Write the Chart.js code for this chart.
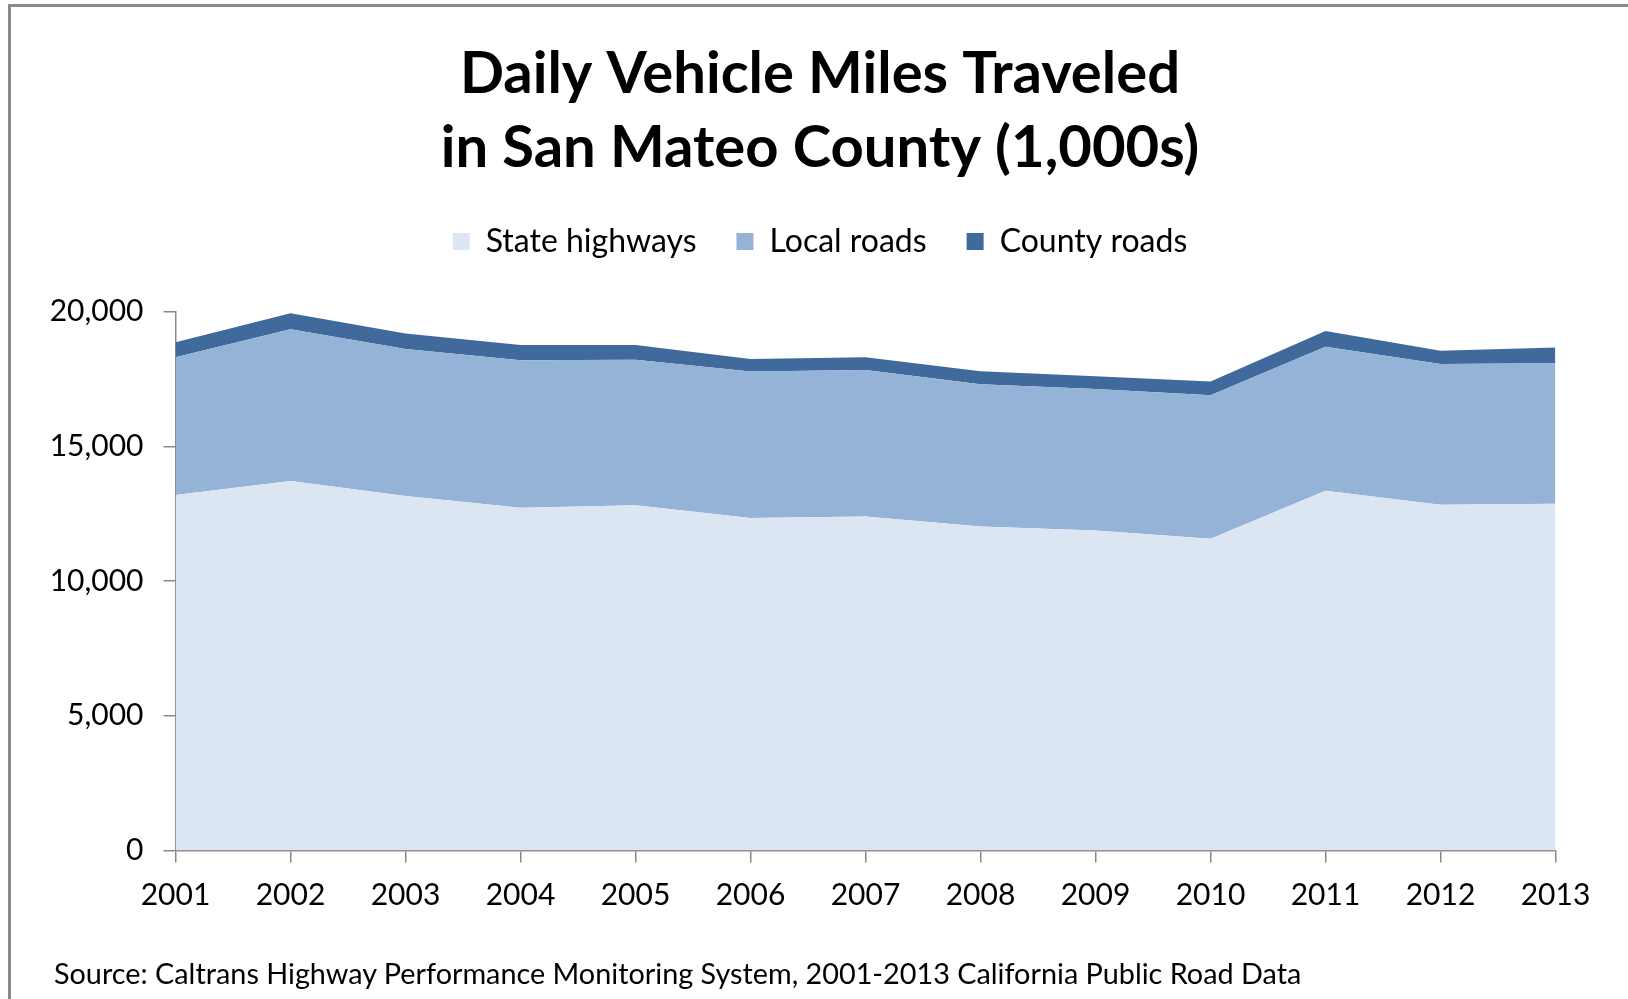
<!DOCTYPE html>
<html>
<head>
<meta charset="utf-8">
<script src="https://cdn.jsdelivr.net/npm/chart.js@4.4.1/dist/chart.umd.min.js"></script>
<style>
  html, body { margin: 0; padding: 0; background: #ffffff; }
  body { width: 1628px; height: 999px; position: relative; overflow: hidden; }
  #frame { position: absolute; left: 8px; top: 4px; width: 1700px; height: 1100px;
           border-top: 3px solid #8a8a8a; border-left: 3px solid #8a8a8a; box-sizing: border-box; }
  #chart { position: absolute; left: 0; top: 0; }
  #source { position: absolute; left: 54px; top: 959px; font-family: Lato, sans-serif;
            font-size: 28.8px; line-height: 28.8px; color: #000; white-space: nowrap; }
</style>
</head>
<body>
<div id="frame"></div>
<canvas id="chart" width="1628" height="999"></canvas>
<div id="source">Source: Caltrans Highway Performance Monitoring System, 2001-2013 California Public Road Data</div>
<script>
const categories = ['2001','2002','2003','2004','2005','2006','2007','2008','2009','2010','2011','2012','2013'];
const stateHighways = [13200, 13720, 13160, 12720, 12820, 12340, 12400, 12030, 11880, 11570, 13350, 12830, 12870];
const localRoads    = [5110, 5630, 5460, 5480, 5400, 5440, 5440, 5280, 5250, 5330, 5350, 5230, 5220];
const countyRoads   = [560, 590, 570, 560, 540, 460, 470, 480, 470, 510, 580, 490, 580];
const seriesNames = ['State highways', 'Local roads', 'County roads'];
const titleLines = ['Daily Vehicle Miles Traveled', 'in San Mateo County (1,000s)'];
const yTicks = [0, 5000, 10000, 15000, 20000];

const colors = ['#dce6f2', '#95b3d7', '#416a9c'];
const axisGray = '#898989';

function areaSet(label, data, color, fill) {
  return {
    label: label, data: data, backgroundColor: color, borderColor: 'rgba(0,0,0,0)',
    borderWidth: 0, pointRadius: 0, pointHoverRadius: 0, fill: fill, tension: 0
  };
}

new Chart(document.getElementById('chart'), {
  type: 'line',
  data: {
    labels: categories,
    datasets: [
      areaSet(seriesNames[0], stateHighways, colors[0], 'origin'),
      areaSet(seriesNames[1], localRoads, colors[1], '-1'),
      areaSet(seriesNames[2], countyRoads, colors[2], '-1')
    ]
  },
  options: {
    responsive: false,
    animation: false,
    devicePixelRatio: 1,
    locale: 'en-US',
    layout: { padding: { left: 40, right: 28, top: 0, bottom: 69.9 } },
    plugins: {
      title: {
        display: true, text: titleLines, color: '#000',
        font: { family: 'Lato', weight: 'bold', size: 58, lineHeight: 74 / 58 },
        padding: { top: 37, bottom: 0.5 }
      },
      subtitle: {
        display: true, text: ' ', position: 'top', weight: 500,
        font: { size: 44.2, lineHeight: 1 }, padding: 0
      },
      legend: {
        display: true, position: 'top',
        labels: {
          boxWidth: 17, boxHeight: 17, padding: 40, color: '#000',
          font: { family: 'Lato', size: 32 }
        }
      },
      tooltip: { enabled: false }
    },
    scales: {
      x: {
        type: 'category', offset: false,
        grid: { display: true, drawOnChartArea: false, drawTicks: true, tickLength: 12, color: axisGray, lineWidth: 1.5 },
        border: { display: true, color: axisGray, width: 1.5 },
        ticks: { color: '#000', font: { family: 'Lato', size: 30 }, padding: 15.3, maxRotation: 0, autoSkip: false }
      },
      y: {
        stacked: true, min: 0, max: 20000,
        afterFit: function (scale) { scale.width = 135.5; },
        afterBuildTicks: function (scale) { scale.ticks = yTicks.map(v => ({ value: v })); },
        grid: { display: true, drawOnChartArea: false, drawTicks: true, tickLength: 12, color: axisGray, lineWidth: 1.5 },
        border: { display: true, color: axisGray, width: 1.5 },
        ticks: { color: '#000', font: { family: 'Lato', size: 30 }, padding: 20 }
      },
      yRightSpace: {
        axis: 'y', position: 'right', display: true,
        afterFit: function (scale) { scale.width = 44.5; },
        grid: { display: false, drawTicks: false },
        border: { display: false },
        ticks: { display: false }
      }
    }
  }
});
</script>
</body>
</html>
